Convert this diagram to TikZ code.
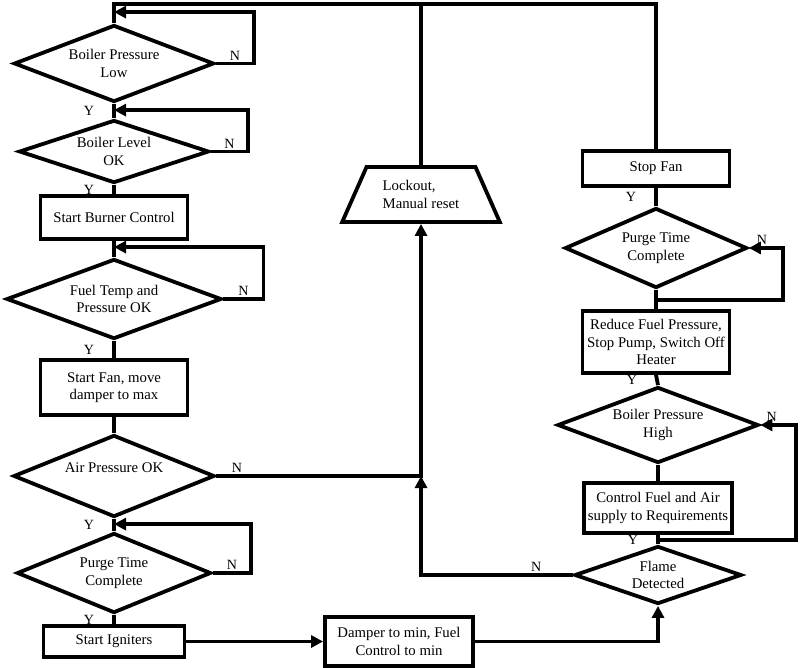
\documentclass[tikz,border=0pt]{standalone}
\usepackage{fontspec}
\setmainfont{Liberation Serif}
\usetikzlibrary{arrows.meta, positioning, shapes.geometric, calc}
\definecolor{flowInk}{HTML}{000000}
\tikzset{
  lineK/.style={draw=flowInk, line width=2.7pt},
  arrowK/.style={lineK, -{Triangle[length=3mm, width=3mm]}},
  boxW/.style={rectangle, draw=flowInk, line width=2.7pt, fill=white,
               align=center, inner sep=1pt},
  decW/.style={diamond, aspect=2.6, draw=flowInk, line width=2.7pt, fill=white,
               align=center, inner sep=0pt},
  trapW/.style={trapezium, trapezium left angle=60, trapezium right angle=60,
                trapezium stretches=true, draw=flowInk, line width=2.7pt,
                fill=white, align=left, inner sep=1pt},
  lblN/.style={above, inner sep=1pt, font=\fontsize{10}{12}\selectfont},
  lblY/.style={left=0.45cm, inner sep=0pt, font=\fontsize{10}{12}\selectfont},
}
\begin{document}
\begin{tikzpicture}[x=0.025cm, y=-0.025cm, font=\fontsize{10.5}{12.5}\selectfont]
  \useasboundingbox (0,0) rectangle (800,668);
  % left column
  \node[decW, minimum width=5cm, minimum height=1.925cm]
    (bpLow) at (114,63.5) {Boiler Pressure\\Low};
  \node[decW, minimum width=4.75cm, minimum height=1.575cm]
    (lvlOk) at (114,151.5) {Boiler Level\\OK};
  \node[boxW, minimum width=3.675cm, minimum height=1.075cm]
    (burner) at (114,217.5) {Start Burner Control};
  \node[decW, minimum width=5.375cm, minimum height=2cm]
    (fuelOk) at (114,299) {Fuel Temp and\\Pressure OK};
  \node[boxW, minimum width=3.675cm, minimum height=1.375cm]
    (fanMax) at (114,387.5) {Start Fan, move\\damper to max};
  \node[decW, minimum width=5.025cm, minimum height=2.05cm]
    (airOk) at (114,476) {Air Pressure OK\\~};
  \node[decW, minimum width=4.85cm, minimum height=2cm]
    (purgeL) at (114,573) {Purge Time\\Complete};
  \node[boxW, minimum width=3.525cm, minimum height=0.775cm]
    (ignite) at (114,641.5) {Start Igniters};
  \node[boxW, minimum width=3.7cm, minimum height=1.225cm]
    (damper) at (399,641.5) {Damper to min, Fuel\\Control to min};
  % right column
  \node[decW, aspect=2.9, minimum width=4.175cm, minimum height=1.45cm]
    (flame) at (658,575) {Flame\\Detected};
  \node[boxW, minimum width=3.7cm, minimum height=1.25cm]
    (control) at (658,508) {Control Fuel and Air\\supply to Requirements};
  \node[decW, minimum width=5.025cm, minimum height=1.9cm]
    (bpHigh) at (658,425) {Boiler Pressure\\High};
  \node[boxW, minimum width=3.675cm, minimum height=1.55cm]
    (reduce) at (656,342) {Reduce Fuel Pressure,\\Stop Pump, Switch Off\\Heater};
  \node[decW, minimum width=4.55cm, minimum height=2cm]
    (purgeR) at (656,248) {Purge Time\\Complete};
  \node[boxW, minimum width=3.675cm, minimum height=0.875cm]
    (stopFan) at (656,168.5) {Stop Fan};
  \node[trapW, minimum width=3.95cm, minimum height=1.375cm]
    (lockout) at (421,194.5) {Lockout,\\Manual reset};

  % return line along the top
  \coordinate (top) at ($(bpLow.north)+(0,-19)$);
  \draw[lineK] (stopFan.north) |- (top) -- (bpLow.north);
  \draw[lineK] (lockout.north) -- (lockout.north |- top);

  % left chain
  \draw[arrowK] (bpLow.east) -- node[lblN] (n1) {N} ++(38,0) |- ($(bpLow.north)+(0,-11)$);
  \draw[lineK] (bpLow.south) -- node[lblY] (y1) {Y} (lvlOk.north);
  \draw[arrowK] (lvlOk.east) -- node[lblN] (n2) {N} ++(37,0) |- ($(lvlOk.north)+(0,-8)$);
  \draw[lineK] (lvlOk.south) -- node[lblY] (y2) {Y} (burner.north);
  \draw[lineK] (burner.south) -- (fuelOk.north);
  \draw[arrowK] (fuelOk.east) -- node[lblN] (n3) {N} ++(40,0) |- ($(fuelOk.north)+(0,-10)$);
  \draw[lineK] (fuelOk.south) -- node[lblY] (y3) {Y} (fanMax.north);
  \draw[lineK] (fanMax.south) -- (airOk.north);
  \draw[lineK] (airOk.south) -- node[lblY] (y4) {Y} (purgeL.north);
  \draw[arrowK] (purgeL.east) -- node[lblN] (n5) {N} ++(38,0) |- ($(purgeL.north)+(0,-7)$);
  \draw[lineK] (purgeL.south) -- node[lblY] (y5) {Y} (ignite.north);
  \draw[arrowK] (ignite.east) -- (damper.west);
  \draw[arrowK] (damper.east) -| (flame.south);

  % lockout branch
  \coordinate (join) at (lockout.south |- airOk.east);
  \draw[arrowK] (airOk.east) -- node[lblN, pos=0.1] (n4) {N} (join) -- (lockout.south);
  \draw[arrowK] (flame.west) -- node[lblN, pos=0.24] (n6) {N} (flame.west -| join) -- (join);

  % right chain
  \draw[lineK] (flame.north) -- node[lblY] (y6) {Y} (control.south);
  \draw[arrowK] ($(control.south)+(0,5)$) -- ++(138,0) |- node[lblN, pos=0.84] (n7) {N} (bpHigh.east);
  \draw[lineK] (bpHigh.south) -- (control.north);
  \draw[lineK] (reduce.south) -- node[lblY] (y7) {Y} (bpHigh.north);
  \draw[lineK] (purgeR.south) -- (reduce.north);
  \draw[arrowK] ($(purgeR.south)+(0,10)$) -- ++(127,0) |- node[lblN, pos=0.81] (n8) {N} (purgeR.east);
  \draw[lineK] (stopFan.south) -- node[lblY] (y8) {Y} (purgeR.north);
\end{tikzpicture}
\end{document}
